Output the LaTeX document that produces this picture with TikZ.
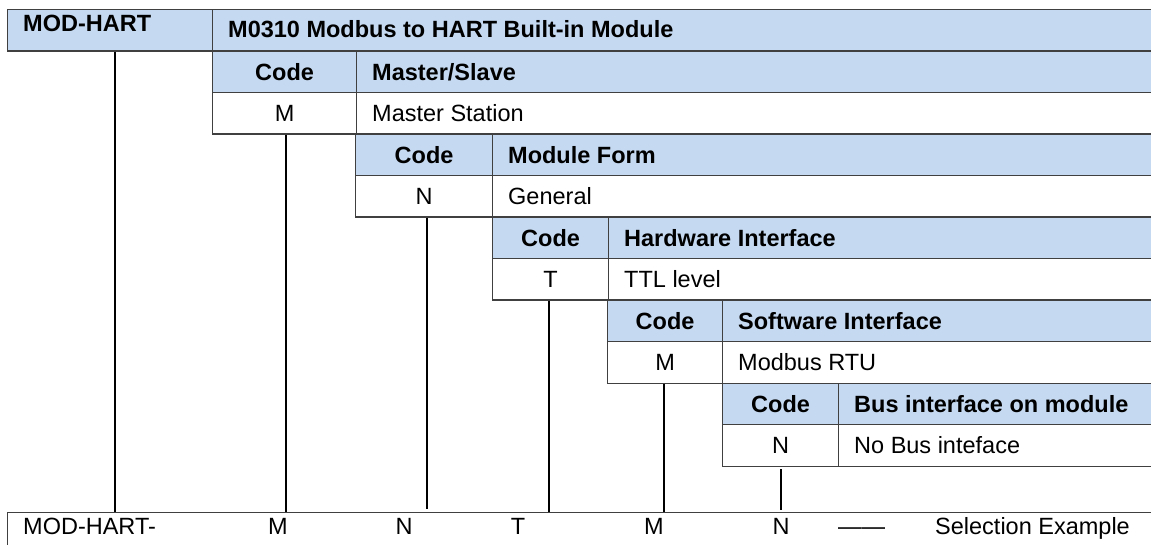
\documentclass[tikz,border=0pt]{standalone}
\usepackage{fontspec}
\setmainfont{Liberation Sans}
\usetikzlibrary{calc}
\definecolor{hblue}{RGB}{197,217,241}
\definecolor{bord}{RGB}{64,64,64}
\tikzset{
  cellh/.style={draw=bord, line width=1.2pt, fill=hblue, anchor=north west, inner sep=0pt, minimum height=41.5pt},
  celld/.style={draw=bord, line width=1.2pt, fill=white, anchor=north west, inner sep=0pt, minimum height=41.5pt},
  btxt/.style={font=\fontsize{23.5}{28}\selectfont\bfseries, inner sep=0pt},
  rtxt/.style={font=\fontsize{23.5}{28}\selectfont, inner sep=0pt},
  conn/.style={draw=black, line width=2pt},
}
\begin{document}
\begin{tikzpicture}[x=1pt,y=-1pt]
\useasboundingbox[fill=white] (0,0) rectangle (1151,545);

% title row
\node[cellh, minimum width=205pt] (modhart) at (7,9) {};
\node[cellh, minimum width=943pt] (title) at (212,9) {};
\node[btxt, anchor=base west] (tmodhart) at (23,32) {MOD-HART};
\node[btxt, anchor=base west] (ttitle) at (228,38) {M0310 Modbus to HART Built-in Module};

% table 1
\node[cellh, minimum width=144pt] (c1h) at (212,50.5) {};
\node[cellh, minimum width=799pt] (d1h) at (356,50.5) {};
\node[celld, minimum width=144pt] (c1) at (212,92) {};
\node[celld, minimum width=799pt] (d1) at (356,92) {};
\node[btxt, anchor=base] (tc1h) at ([yshift=-8.5pt]c1h.center) {Code};
\node[btxt, anchor=base west] (td1h) at ([xshift=16pt,yshift=-8.5pt]d1h.west) {Master/Slave};
\node[rtxt, anchor=base] (tc1) at ([yshift=-8.5pt]c1.center) {M};
\node[rtxt, anchor=base west] (td1) at ([xshift=16pt,yshift=-8.5pt]d1.west) {Master Station};

% table 2
\node[cellh, minimum width=137pt] (c2h) at (355,133.5) {};
\node[cellh, minimum width=663pt] (d2h) at (492,133.5) {};
\node[celld, minimum width=137pt] (c2) at (355,175) {};
\node[celld, minimum width=663pt] (d2) at (492,175) {};
\node[btxt, anchor=base] (tc2h) at ([yshift=-8.5pt]c2h.center) {Code};
\node[btxt, anchor=base west] (td2h) at ([xshift=16pt,yshift=-8.5pt]d2h.west) {Module Form};
\node[rtxt, anchor=base] (tc2) at ([yshift=-8.5pt]c2.center) {N};
\node[rtxt, anchor=base west] (td2) at ([xshift=16pt,yshift=-8.5pt]d2.west) {General};

% table 3
\node[cellh, minimum width=116pt] (c3h) at (492,216.5) {};
\node[cellh, minimum width=547pt] (d3h) at (608,216.5) {};
\node[celld, minimum width=116pt] (c3) at (492,258) {};
\node[celld, minimum width=547pt] (d3) at (608,258) {};
\node[btxt, anchor=base] (tc3h) at ([yshift=-8.5pt]c3h.center) {Code};
\node[btxt, anchor=base west] (td3h) at ([xshift=16pt,yshift=-8.5pt]d3h.west) {Hardware Interface};
\node[rtxt, anchor=base] (tc3) at ([yshift=-8.5pt]c3.center) {T};
\node[rtxt, anchor=base west] (td3) at ([xshift=16pt,yshift=-8.5pt]d3.west) {TTL level};

% table 4
\node[cellh, minimum width=115pt] (c4h) at (607,299.5) {};
\node[cellh, minimum width=433pt] (d4h) at (722,299.5) {};
\node[celld, minimum width=115pt] (c4) at (607,341) {};
\node[celld, minimum width=433pt] (d4) at (722,341) {};
\node[btxt, anchor=base] (tc4h) at ([yshift=-8.5pt]c4h.center) {Code};
\node[btxt, anchor=base west] (td4h) at ([xshift=16pt,yshift=-8.5pt]d4h.west) {Software Interface};
\node[rtxt, anchor=base] (tc4) at ([yshift=-8.5pt]c4.center) {M};
\node[rtxt, anchor=base west] (td4) at ([xshift=16pt,yshift=-8.5pt]d4.west) {Modbus RTU};

% table 5
\node[cellh, minimum width=116pt] (c5h) at (722,382.5) {};
\node[cellh, minimum width=317pt] (d5h) at (838,382.5) {};
\node[celld, minimum width=116pt] (c5) at (722,424) {};
\node[celld, minimum width=317pt] (d5) at (838,424) {};
\node[btxt, anchor=base] (tc5h) at ([yshift=-8.5pt]c5h.center) {Code};
\node[btxt, anchor=base west] (td5h) at ([xshift=16pt,yshift=-8.5pt]d5h.west) {Bus interface on module};
\node[rtxt, anchor=base] (tc5) at ([yshift=-8.5pt]c5.center) {N};
\node[rtxt, anchor=base west] (td5) at ([xshift=16pt,yshift=-8.5pt]d5.west) {No Bus inteface};

% bottom selection example bar
\node[draw=bord, line width=1.2pt, anchor=north west, inner sep=0pt, minimum width=1160pt, minimum height=50pt] (bar) at (7,512) {};
\node[rtxt, anchor=base west] (b0) at (23,534) {MOD-HART-};
\node[rtxt, anchor=base] (b1) at (278,534) {M};
\node[rtxt, anchor=base] (b2) at (404,534) {N};
\node[rtxt, anchor=base] (b3) at (518,534) {T};
\node[rtxt, anchor=base] (b4) at (654,534) {M};
\node[rtxt, anchor=base] (b5) at (781,534) {N};
\node[rtxt, anchor=base west] (bdash) at (838,534) {——};
\node[rtxt, anchor=base west] (bsel) at (935,534) {Selection Example};

% connector x positions
\coordinate (x0) at (115,0);
\coordinate (x1) at (286,0);
\coordinate (x2) at (427,0);
\coordinate (x3) at (549,0);
\coordinate (x4) at (664,0);
\coordinate (x5) at (781,0);

\draw[conn] (x0 |- modhart.south) -- (x0 |- bar.north);
\draw[conn] (x1 |- c1.south) -- (x1 |- bar.north);
\draw[conn] (x2 |- c2.south) -- ($(x2 |- bar.north)+(0,-3)$);
\draw[conn] (x3 |- c3.south) -- (x3 |- bar.north);
\draw[conn] (x4 |- c4.south) -- (x4 |- bar.north);
\draw[conn] ($(x5 |- c5.south)+(0,2.5)$) -- ($(x5 |- bar.north)+(0,-2)$);
\end{tikzpicture}
\end{document}
